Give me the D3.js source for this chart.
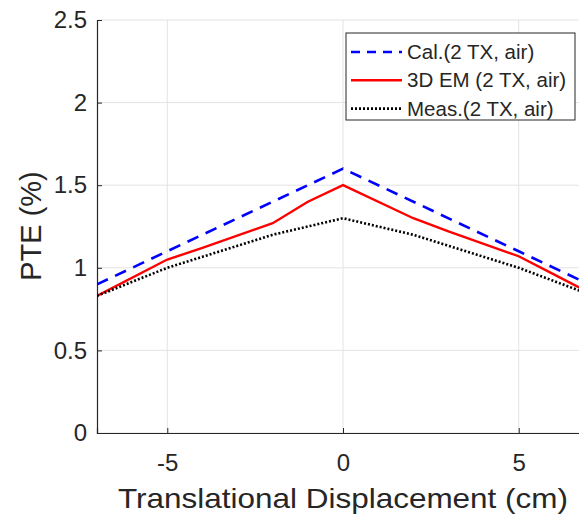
<!DOCTYPE html>
<html>
<head>
<meta charset="utf-8">
<script src="https://cdn.jsdelivr.net/npm/d3@7"></script>
<style>
  body { margin: 0; background: #fff; overflow: hidden; }
  text { font-family: "Liberation Sans", Arial, sans-serif; fill: #262626; }
</style>
</head>
<body>
<svg width="579" height="515"></svg>
<script>
// PTE vs translational displacement, 2 TX in air

var calX  = [-7, -5, 0, 5, 7];
var calY  = [0.9, 1.1, 1.6, 1.1, 0.9];

var emX   = [-7, -5, -4, -2, -1, 0, 2, 3, 5, 6, 7];
var emY   = [0.83, 1.05, 1.12, 1.27, 1.4, 1.5, 1.3, 1.22, 1.07, 0.96, 0.85];

var measX = [-7, -5, -2, 0, 2, 5, 7];
var measY = [0.83, 1.0, 1.2, 1.3, 1.2, 1.0, 0.84];

var xTicks = [-5, 0, 5];
var yTicks = [0, 0.5, 1, 1.5, 2, 2.5];

var legendLabels = ["Cal.(2 TX, air)", "3D EM (2 TX, air)", "Meas.(2 TX, air)"];

var margin = {left: 97, top: 20};
var w = 492, h = 413;

var svg = d3.select("svg");

var x = d3.scaleLinear().domain([-7, 7]).range([0, w]);
var y = d3.scaleLinear().domain([0, 2.5]).range([h, 0]);

var g = svg.append("g").attr("transform", translate(margin.left, margin.top));

// grid
g.selectAll(".gx").data(xTicks).enter().append("line")
  .attr("x1", function(d){ return x(d) }).attr("x2", function(d){ return x(d) })
  .attr("y1", 0).attr("y2", h)
  .style("stroke", "#e3e3e3").style("stroke-width", 1);
g.selectAll(".gy").data(yTicks).enter().append("line")
  .attr("x1", 0).attr("x2", w)
  .attr("y1", function(d){ return y(d) }).attr("y2", function(d){ return y(d) })
  .style("stroke", "#e3e3e3").style("stroke-width", 1);

// axes
var xAxis = d3.axisBottom(x).tickValues(xTicks).tickSize(-5).tickPadding(14)
  .tickFormat(function(d){ return d < 0 ? "-" + Math.abs(d) : d });
var yAxis = d3.axisLeft(y).tickValues(yTicks).tickSize(-5).tickPadding(10)
  .tickFormat(function(d){ return d });

var gx = g.append("g").attr("transform", translate(0, h)).call(xAxis);
var gy = g.append("g").call(yAxis);
[gx, gy].forEach(function(a){
  a.select(".domain").style("stroke", "#262626").style("stroke-width", 1.2);
  a.selectAll(".tick line").style("stroke", "#262626");
  a.selectAll("text").style("font-size", "24px").style("fill", "#262626")
    .style("font-family", "Liberation Sans, Arial, sans-serif");
});
gx.selectAll("text").attr("dy", "1em");

// lines
var line = d3.line()
  .x(function(d){ return x(d[0]) })
  .y(function(d){ return y(d[1]) });

function pairs(xs, ys){ return xs.map(function(v, i){ return [v, ys[i]] }) }

var series = [
  {data: pairs(calX, calY),   color: "#0000ff", dash: "12,8", width: 2.6},
  {data: pairs(emX, emY),     color: "#ff0000", dash: null,   width: 2.4},
  {data: pairs(measX, measY), color: "#000000", dash: "2,2",  width: 2.6}
];

var clip = svg.append("clipPath").attr("id", "plotclip")
  .append("rect").attr("width", w).attr("height", h);

series.forEach(function(s){
  g.append("path").datum(s.data)
    .attr("d", line)
    .attr("clip-path", "url(#plotclip)")
    .style("fill", "none")
    .style("stroke", s.color)
    .style("stroke-width", s.width)
    .style("stroke-dasharray", s.dash);
});

// legend
var lg = svg.append("g").attr("transform", translate(346, 33));
lg.append("rect").attr("width", 229).attr("height", 87)
  .style("fill", "#fff").style("stroke", "#262626").style("stroke-width", 1);
series.forEach(function(s, i){
  var yy = 19 + i * 28.3;
  lg.append("line").attr("x1", 5).attr("x2", 56).attr("y1", yy).attr("y2", yy)
    .style("stroke", s.color).style("stroke-width", s.width)
    .style("stroke-dasharray", i == 0 ? "9,7" : s.dash);
  lg.append("text").attr("x", 61).attr("y", yy).attr("dy", "0.35em")
    .style("font-size", "20.5px").text(legendLabels[i]);
});

// axis labels
svg.append("text").attr("x", 343).attr("y", 508)
  .attr("text-anchor", "middle").style("font-size", "28px")
  .attr("textLength", 450).attr("lengthAdjust", "spacingAndGlyphs")
  .text("Translational Displacement (cm)");

svg.append("text")
  .attr("transform", translate(41, 226) + " rotate(-90)")
  .attr("text-anchor", "middle").style("font-size", "29px")
  .text("PTE (%)");

function translate(a, b){ return "translate(" + [a, b] + ")" }
</script>
</body>
</html>
